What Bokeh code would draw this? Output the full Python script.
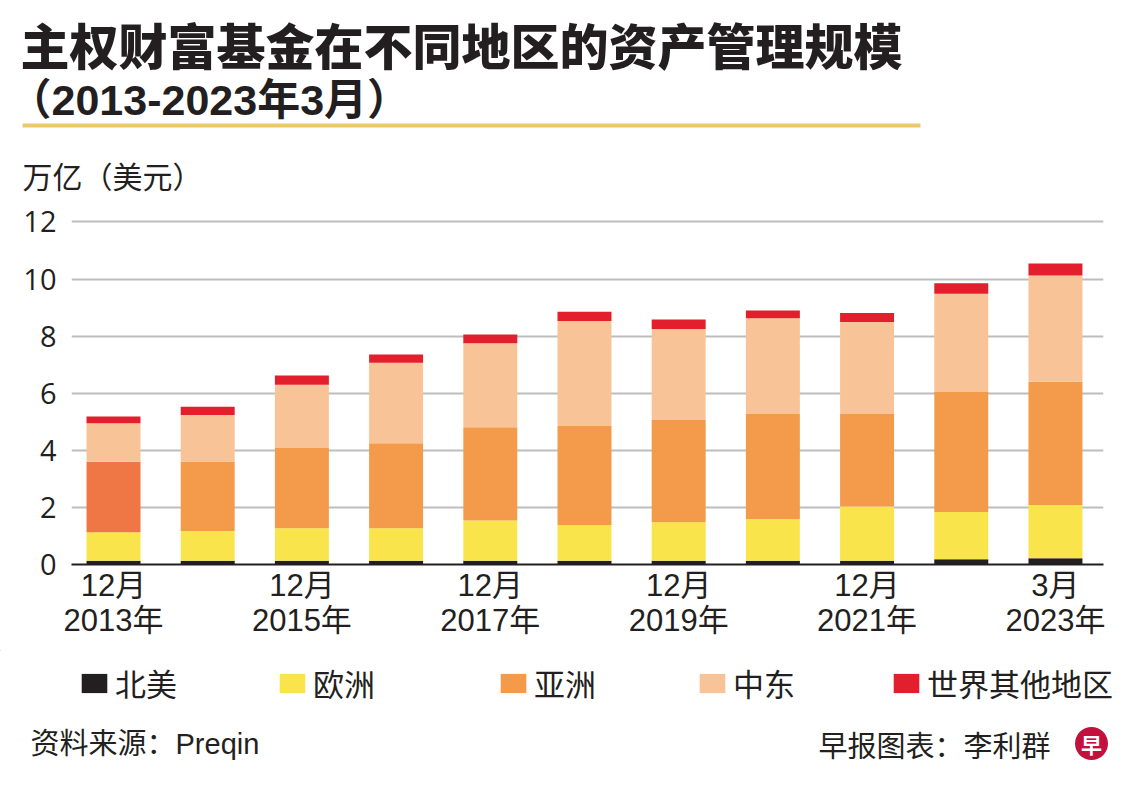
import numpy as np
from bokeh.plotting import figure
from bokeh.layouts import column
from bokeh.models import (Range1d, FixedTicker, Label, Legend, LegendItem,
                          ColumnDataSource)
from bokeh.embed import file_html
from bokeh.resources import INLINE

# ---------------- data (trillion USD) ----------------
periods = ["12月 2013年", "12月 2014年", "12月 2015年", "12月 2016年", "12月 2017年",
           "12月 2018年", "12月 2019年", "12月 2020年", "12月 2021年", "12月 2022年",
           "3月 2023年"]
tick_index = [0, 2, 4, 6, 8, 10]
tick_labels = ["12月\n2013年", "12月\n2015年", "12月\n2017年", "12月\n2019年",
               "12月\n2021年", "3月\n2023年"]
y_ticks = [0, 2, 4, 6, 8, 10, 12]

north_america = [0.13, 0.13, 0.13, 0.13, 0.13, 0.13, 0.13, 0.13, 0.13, 0.18, 0.22]
europe        = [1.00, 1.04, 1.14, 1.14, 1.41, 1.25, 1.35, 1.46, 1.90, 1.66, 1.86]
asia          = [2.47, 2.44, 2.81, 2.98, 3.27, 3.47, 3.58, 3.68, 3.24, 4.20, 4.32]
middle_east   = [1.35, 1.63, 2.22, 2.82, 2.94, 3.68, 3.19, 3.36, 3.22, 3.44, 3.72]
rest_world    = [0.23, 0.29, 0.32, 0.29, 0.31, 0.32, 0.33, 0.27, 0.32, 0.37, 0.42]

series_names = ["北美", "欧洲", "亚洲", "中东", "世界其他地区"]
series_colors = ["#231f20", "#f9e54b", "#f39b4b", "#f8c497", "#e31e2d"]
asia_first_color = "#ef7745"

title_text = "主权财富基金在不同地区的资产管理规模"
subtitle_text = "（2013-2023年3月）"
unit_text = "万亿（美元）"
source_text = "资料来源：Preqin"
credit_text = "早报图表：李利群"
logo_text = "早"

# ---------------- layout ----------------
W = 1140
H_HEAD, H_MAIN, H_FOOT = 200, 450, 141
CJK = "Noto Sans CJK SC"
MIX = "Liberation Sans, Noto Sans CJK SC"
DARK = "#231f20"


def blank(height, y_top):
    f = figure(width=W, height=height, x_range=Range1d(0, W),
               y_range=Range1d(y_top + height, y_top),
               output_backend="svg", toolbar_location=None,
               min_border=0, min_border_left=0, min_border_right=0,
               min_border_top=0, min_border_bottom=0)
    f.axis.visible = False
    f.grid.grid_line_color = None
    f.outline_line_color = None
    f.background_fill_color = "white"
    f.border_fill_color = "white"
    f.frame_align = False
    return f


# ---------------- header ----------------
head = blank(H_HEAD, 0)
head.add_layout(Label(x=20, y=43, text=title_text,
                      text_font="Noto Sans CJK SC Black, Noto Sans CJK SC",
                      text_font_style="bold", text_font_size="49px", text_color=DARK,
                      text_baseline="middle", text_align="left"))
head.add_layout(Label(x=8, y=99, text=subtitle_text, text_font=MIX,
                      text_font_style="bold", text_font_size="43px", text_color=DARK,
                      text_baseline="middle", text_align="left"))
head.quad(left=[22], right=[920], top=[123], bottom=[127],
          fill_color="#ecc96a", line_color=None)
head.add_layout(Label(x=22, y=174, text=unit_text, text_font=CJK,
                      text_font_size="30px", text_color=DARK,
                      text_baseline="middle", text_align="left"))

# ---------------- main chart ----------------
p = figure(width=W, height=H_MAIN, x_range=Range1d(-0.446, 10.51),
           y_range=Range1d(0, 12.4),
           output_backend="svg", toolbar_location=None,
           min_border_left=71, min_border_right=37, min_border_top=10,
           min_border_bottom=86)
p.outline_line_color = None
p.background_fill_color = "white"
p.border_fill_color = "white"
p.frame_align = False

xs = np.arange(len(periods))
layers = [north_america, europe, asia, middle_east, rest_world]
bottom = np.zeros(len(periods))
for i, vals in enumerate(layers):
    vals = np.array(vals)
    cols = [series_colors[i]] * len(periods)
    if i == 2:
        cols[0] = asia_first_color
    src = ColumnDataSource(dict(x=xs, bottom=bottom.copy(), top=bottom + vals, c=cols))
    p.vbar(x="x", bottom="bottom", top="top", width=0.573, source=src,
           fill_color="c", line_color=None)
    bottom = bottom + vals

p.xgrid.grid_line_color = None
p.ygrid.ticker = FixedTicker(ticks=y_ticks)
p.ygrid.grid_line_color = "#bdbdbd"
p.ygrid.grid_line_width = 2
p.ygrid.level = "underlay"

p.yaxis.ticker = FixedTicker(ticks=y_ticks)
p.yaxis.axis_line_color = None
p.yaxis.major_tick_line_color = None
p.yaxis.minor_tick_line_color = None
p.yaxis.major_label_standoff = 9
p.yaxis.major_label_text_font = "Open Sans"
p.yaxis.major_label_text_font_size = "29px"
p.yaxis.major_label_text_color = DARK

p.xaxis.ticker = FixedTicker(ticks=tick_index)
p.xaxis.major_label_overrides = {i: t for i, t in zip(tick_index, tick_labels)}
p.xaxis.axis_line_color = DARK
p.xaxis.axis_line_width = 2
p.xaxis.major_tick_line_color = None
p.xaxis.minor_tick_line_color = None
p.xaxis.major_label_standoff = -3
p.xaxis.major_label_text_font = MIX
p.xaxis.major_label_text_font_size = "31px"
p.xaxis.major_label_text_color = DARK
p.xaxis.major_label_text_line_height = 1.0

# ---------------- footer ----------------
foot = blank(H_FOOT, 650)
legend_x = [78, 276, 497, 696, 890]
for name, color, lx in zip(series_names, series_colors, legend_x):
    # off-screen swatch renderer that only feeds the legend
    r = foot.vbar(x=[-500], top=[-500], bottom=[-510], width=10,
                  fill_color=color, line_color=None)
    lg = Legend(items=[LegendItem(label=name, renderers=[r])],
                location=(lx, 86),
                orientation="horizontal", padding=0, margin=0, spacing=0,
                glyph_width=32, glyph_height=24, label_standoff=5,
                label_text_font=CJK, label_text_font_size="31px",
                label_text_color=DARK, border_line_color=None,
                background_fill_alpha=0, label_height=24)
    foot.add_layout(lg)

foot.add_layout(Label(x=30, y=743, text=source_text, text_font=MIX,
                      text_font_size="29px", text_color=DARK,
                      text_baseline="middle", text_align="left"))
foot.add_layout(Label(x=1050, y=743, text=credit_text, text_font=CJK,
                      text_font_size="29px", text_color=DARK,
                      text_baseline="middle", text_align="right"))
foot.scatter(x=[1091], y=[743], size=33, marker="circle",
             fill_color="#c3113e", line_color=None)
foot.add_layout(Label(x=1091, y=743, text=logo_text, text_font=CJK,
                      text_font_style="bold", text_font_size="21px", text_color="white",
                      text_baseline="middle", text_align="center"))

layout = column(head, p, foot, spacing=0)
open("out.html", "w").write(file_html(layout, INLINE))
